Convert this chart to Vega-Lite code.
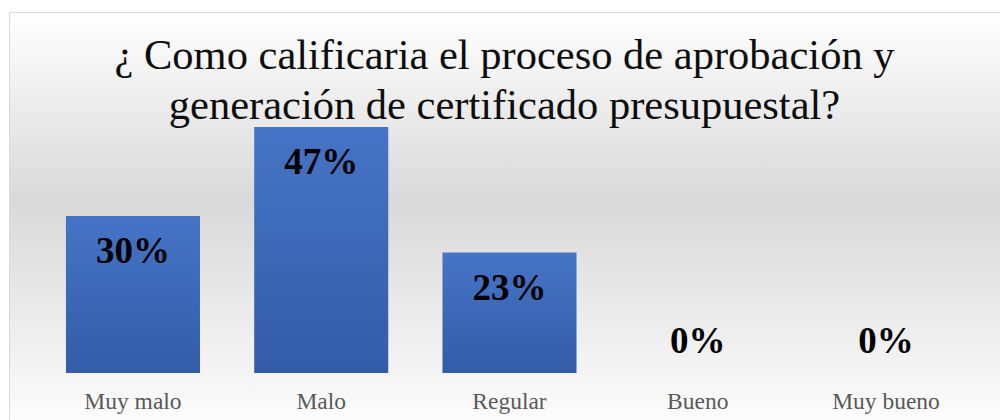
{
  "$schema": "https://vega.github.io/schema/vega-lite/v6.json",
  "width": 1000,
  "height": 420,
  "autosize": {"type": "fit", "contains": "padding"},
  "padding": {"left": 9, "top": 12, "right": 0, "bottom": 0},
  "background": "#ffffff",
  "config": {
    "view": {
      "stroke": "#d9d9d9",
      "strokeWidth": 1,
      "fill": {
        "gradient": "linear",
        "x1": 0, "y1": 0, "x2": 0, "y2": 1,
        "stops": [
          {"offset": 0, "color": "#ffffff"},
          {"offset": 0.46, "color": "#d9d9d9"},
          {"offset": 1, "color": "#fcfcfc"}
        ]
      }
    }
  },
  "title": {
    "text": ["¿ Como calificaria el proceso de aprobación y", "generación de certificado presupuestal?"],
    "font": "Liberation Serif",
    "fontSize": 42.5,
    "fontWeight": "normal",
    "color": "#0d0d0d",
    "anchor": "middle",
    "frame": "group",
    "baseline": "alphabetic",
    "lineHeight": 50,
    "offset": -149
  },
  "data": {
    "values": [
      {"cat": "Muy malo", "v": 0.30},
      {"cat": "Malo", "v": 0.47},
      {"cat": "Regular", "v": 0.23},
      {"cat": "Bueno", "v": 0.0},
      {"cat": "Muy bueno", "v": 0.0}
    ]
  },
  "encoding": {
    "x": {
      "field": "cat",
      "type": "nominal",
      "sort": null,
      "axis": null,
      "scale": {"paddingInner": 0.288, "paddingOuter": 0.276, "align": 0.548}
    },
    "y": {
      "field": "v",
      "type": "quantitative",
      "axis": null,
      "scale": {"domain": [-0.0898, 0.6897], "nice": false, "zero": false}
    }
  },
  "layer": [
    {
      "mark": {
        "type": "bar",
        "color": {
          "gradient": "linear",
          "x1": 0, "y1": 0, "x2": 0, "y2": 1,
          "stops": [
            {"offset": 0, "color": "#4674c6"},
            {"offset": 1, "color": "#335ca8"}
          ]
        }
      },
      "encoding": {"y2": {"datum": 0}}
    },
    {
      "transform": [{"filter": "datum.v > 0"}],
      "mark": {"type": "text", "font": "Liberation Serif", "fontSize": 37, "fontWeight": "bold", "color": "#000000", "baseline": "middle", "dy": 36},
      "encoding": {"text": {"field": "v", "type": "quantitative", "format": ".0%"}}
    },
    {
      "transform": [{"filter": "datum.v == 0"}],
      "mark": {"type": "text", "font": "Liberation Serif", "fontSize": 37, "fontWeight": "bold", "color": "#000000", "baseline": "middle", "dy": -31},
      "encoding": {"text": {"field": "v", "type": "quantitative", "format": ".0%"}}
    },
    {
      "mark": {"type": "text", "font": "Liberation Serif", "fontSize": 23.5, "color": "#595959", "baseline": "alphabetic", "dy": 36},
      "encoding": {"y": {"datum": 0}, "text": {"field": "cat", "type": "nominal"}}
    }
  ]
}
